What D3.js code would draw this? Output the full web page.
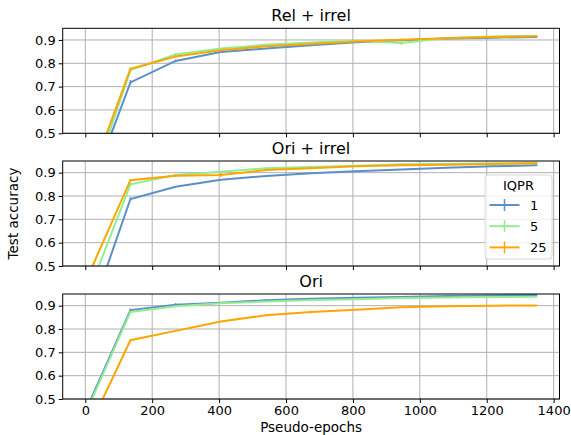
<!DOCTYPE html>
<html>
<head>
<meta charset="utf-8">
<script src="https://cdn.jsdelivr.net/npm/d3@7"></script>
<style>
  body { margin: 0; background: #fff; }
  svg text { font-family: "DejaVu Sans", sans-serif; fill: #000; }
</style>
</head>
<body>
<div id="container"></div>
<script>
/* CONSTANTS AND GLOBALS */
const width = 571,
  height = 435,
  margin = { left: 62.7, right: 11.5 },
  panelTops = [28.3, 161, 294],
  panelH = 105;

// pseudo-epoch steps and tick labels
const epochs = [0, 135, 270, 405, 540, 675, 810, 945, 1080, 1215, 1350];
const xTicks = [0, 200, 400, 600, 800, 1000, 1200, 1400];
const yTicks = [0.5, 0.6, 0.7, 0.8, 0.9];
const panelTitles = ["Rel + irrel", "Ori + irrel", "Ori"];
const iqpr = ["1", "5", "25"];
const colors = ["#5b8fc8", "#90ee90", "#ffa500"];

// Rel + irrel
const relIqpr1  = [0.20, 0.718, 0.810, 0.848, 0.863, 0.877, 0.890, 0.899, 0.906, 0.910, 0.913];
const relIqpr5  = [0.20, 0.771, 0.838, 0.863, 0.879, 0.889, 0.897, 0.887, 0.908, 0.915, 0.917];
const relIqpr25 = [0.25, 0.776, 0.829, 0.856, 0.873, 0.883, 0.893, 0.901, 0.907, 0.913, 0.916];
const relErr1  = [0.01, 0.010, 0.006, 0.003, 0.002, 0.002, 0.002, 0.002, 0.002, 0.002, 0.002];
const relErr5  = [0.01, 0.006, 0.006, 0.003, 0.002, 0.002, 0.002, 0.010, 0.002, 0.002, 0.002];
const relErr25 = [0.01, 0.006, 0.004, 0.003, 0.002, 0.002, 0.002, 0.004, 0.002, 0.002, 0.002];

// Ori + irrel
const oriIrrIqpr1  = [0.23, 0.787, 0.840, 0.870, 0.886, 0.897, 0.906, 0.914, 0.921, 0.927, 0.932];
const oriIrrIqpr5  = [0.35, 0.850, 0.890, 0.904, 0.919, 0.924, 0.930, 0.936, 0.937, 0.940, 0.942];
const oriIrrIqpr25 = [0.43, 0.868, 0.887, 0.890, 0.911, 0.919, 0.927, 0.932, 0.934, 0.937, 0.940];
const oriIrrErr1  = [0.01, 0.008, 0.003, 0.003, 0.002, 0.002, 0.002, 0.002, 0.002, 0.002, 0.002];
const oriIrrErr5  = [0.01, 0.006, 0.003, 0.003, 0.002, 0.002, 0.002, 0.002, 0.002, 0.002, 0.002];
const oriIrrErr25 = [0.01, 0.005, 0.005, 0.009, 0.005, 0.003, 0.003, 0.002, 0.002, 0.002, 0.002];

// Ori
const oriIqpr1  = [0.445, 0.881, 0.904, 0.913, 0.923, 0.930, 0.934, 0.937, 0.941, 0.944, 0.946];
const oriIqpr5  = [0.435, 0.873, 0.897, 0.910, 0.918, 0.924, 0.928, 0.933, 0.935, 0.937, 0.938];
const oriIqpr25 = [0.342, 0.752, 0.792, 0.832, 0.859, 0.873, 0.883, 0.893, 0.897, 0.900, 0.901];
const oriErr1  = [0.01, 0.007, 0.006, 0.002, 0.002, 0.002, 0.002, 0.002, 0.002, 0.002, 0.002];
const oriErr5  = [0.01, 0.004, 0.004, 0.003, 0.002, 0.002, 0.002, 0.002, 0.002, 0.002, 0.002];
const oriErr25 = [0.01, 0.003, 0.002, 0.002, 0.004, 0.005, 0.002, 0.002, 0.002, 0.002, 0.002];

const panels = [
  { values: [relIqpr1, relIqpr5, relIqpr25], errs: [relErr1, relErr5, relErr25] },
  { values: [oriIrrIqpr1, oriIrrIqpr5, oriIrrIqpr25], errs: [oriIrrErr1, oriIrrErr5, oriIrrErr25] },
  { values: [oriIqpr1, oriIqpr5, oriIqpr25], errs: [oriErr1, oriErr5, oriErr25] }
];

/* SCALES */
const xScale = d3.scaleLinear()
  .domain([-67.5, 1417.5])
  .range([margin.left, width - margin.right]);

const svg = d3.select("#container").append("svg")
  .attr("width", width)
  .attr("height", height);

panels.forEach((p, pi) => {
  const top = panelTops[pi];
  const yScale = d3.scaleLinear()
    .domain([0.5, 0.95])
    .range([top + panelH, top]);

  const g = svg.append("g");

  // clip so lines stop at the frame
  svg.append("clipPath").attr("id", "clip" + pi)
    .append("rect")
    .attr("x", margin.left).attr("y", top)
    .attr("width", xScale.range()[1] - margin.left).attr("height", panelH);

  // grid
  g.selectAll(".vgrid")
    .data(xTicks)
    .join("line")
    .attr("x1", d => xScale(d)).attr("x2", d => xScale(d))
    .attr("y1", top).attr("y2", top + panelH)
    .attr("stroke", "#b0b0b0").attr("stroke-width", 1);
  g.selectAll(".hgrid")
    .data(yTicks)
    .join("line")
    .attr("x1", margin.left).attr("x2", xScale.range()[1])
    .attr("y1", d => yScale(d)).attr("y2", d => yScale(d))
    .attr("stroke", "#b0b0b0").attr("stroke-width", 1);

  // series lines + error bars
  const lines = g.append("g").attr("clip-path", `url(#clip${pi})`);
  const lineGen = d3.line()
    .x((d, i) => xScale(epochs[i]))
    .y(d => yScale(d));

  p.values.forEach((vals, si) => {
    lines.append("path")
      .attr("d", lineGen(vals))
      .attr("fill", "none")
      .attr("stroke", colors[si])
      .attr("stroke-width", 2);
    lines.selectAll(".err" + si)
      .data(vals)
      .join("line")
      .attr("x1", (d, i) => xScale(epochs[i]))
      .attr("x2", (d, i) => xScale(epochs[i]))
      .attr("y1", (d, i) => yScale(d - p.errs[si][i]))
      .attr("y2", (d, i) => yScale(d + p.errs[si][i]))
      .attr("stroke", colors[si])
      .attr("stroke-width", 1.5);
  });

  // axes
  const yAxis = g.append("g")
    .attr("transform", `translate(${margin.left},0)`)
    .call(d3.axisLeft(yScale).tickValues(yTicks).tickSize(4).tickPadding(3).tickFormat(d3.format(".1f")));
  const xAxis = g.append("g")
    .attr("transform", `translate(0,${top + panelH})`)
    .call(d3.axisBottom(xScale).tickValues(xTicks).tickSize(4).tickPadding(3)
      .tickFormat(pi === 2 ? d3.format("d") : ""));
  [yAxis, xAxis].forEach(a => {
    a.select(".domain").remove();
    a.selectAll("line").attr("stroke", "#000").attr("stroke-width", 1);
    a.selectAll("text").attr("font-size", "13px").attr("font-family", "DejaVu Sans");
  });

  // frame
  g.append("rect")
    .attr("x", margin.left).attr("y", top)
    .attr("width", xScale.range()[1] - margin.left).attr("height", panelH)
    .attr("fill", "none").attr("stroke", "#000").attr("stroke-width", 1);

  // title
  g.append("text")
    .attr("x", (margin.left + xScale.range()[1]) / 2)
    .attr("y", top - 7)
    .attr("text-anchor", "middle")
    .attr("font-size", "16px")
    .text(panelTitles[pi]);

  // legend in middle panel
  if (pi === 1) {
    const lg = g.append("g");
    lg.append("rect")
      .attr("x", 485).attr("y", 175)
      .attr("width", 67).attr("height", 84)
      .attr("rx", 3)
      .attr("fill", "#fff").attr("fill-opacity", 0.8)
      .attr("stroke", "#d8d8d8");
    lg.append("text")
      .attr("x", 518.5).attr("y", 190)
      .attr("text-anchor", "middle")
      .attr("font-size", "13px")
      .text("IQPR");
    iqpr.forEach((lab, k) => {
      const cy = 205 + k * 21.2;
      lg.append("line")
        .attr("x1", 489.5).attr("x2", 519.5)
        .attr("y1", cy).attr("y2", cy)
        .attr("stroke", colors[k]).attr("stroke-width", 2);
      lg.append("line")
        .attr("x1", 504.5).attr("x2", 504.5)
        .attr("y1", cy - 6).attr("y2", cy + 6)
        .attr("stroke", colors[k]).attr("stroke-width", 1.5);
      lg.append("text")
        .attr("x", 530).attr("y", cy + 5)
        .attr("font-size", "13px")
        .text(lab);
    });
  }
});

// axis labels
svg.append("text")
  .attr("x", (margin.left + xScale.range()[1]) / 2)
  .attr("y", 432)
  .attr("text-anchor", "middle")
  .attr("font-size", "13.5px")
  .text("Pseudo-epochs");

svg.append("text")
  .attr("transform", `translate(18,213.5) rotate(-90)`)
  .attr("text-anchor", "middle")
  .attr("font-size", "13.5px")
  .text("Test accuracy");
</script>
</body>
</html>
